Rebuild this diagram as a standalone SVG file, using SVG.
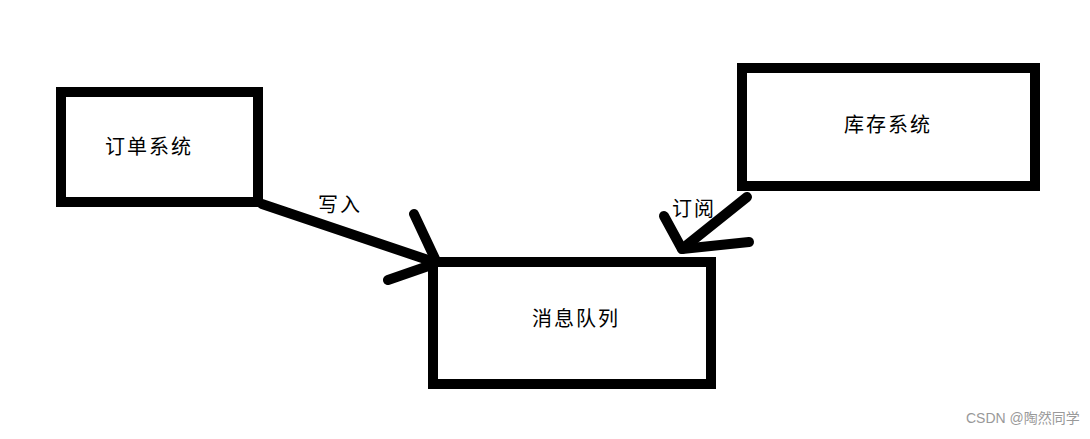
<svg xmlns="http://www.w3.org/2000/svg" width="1090" height="439" viewBox="0 0 1090 439">
<style>
.box{fill:#fff;stroke:#000;stroke-width:10}
.t{font-family:"Noto Sans CJK SC","Liberation Sans",sans-serif;font-size:20px;fill:#000;text-anchor:middle;dominant-baseline:central;letter-spacing:2px}
.c{fill:none;stroke:#000;stroke-width:10;stroke-linecap:round;stroke-linejoin:round}
.wm{font-family:"Liberation Sans","Noto Sans CJK SC",sans-serif;font-size:14px;fill:#999}
</style>
<rect width="1090" height="439" fill="#fff"/>
<g id="connectors">
<path class="c" d="M262,204 L437,263"/>
<path class="c" d="M414,214 L437,263 L388,280"/>
<path class="c" d="M747,197 L682,249"/>
<path class="c" d="M664,216 L682,249 L749,242"/>
<text class="t" x="340" y="203">写入</text>
<text class="t" x="694" y="207">订阅</text>
</g>
<g id="order">
<rect class="box" x="61" y="92" width="197" height="110"/>
<text class="t" x="149" y="145">订单系统</text>
</g>
<g id="inventory">
<rect class="box" x="742" y="68" width="293" height="118"/>
<text class="t" x="888" y="123">库存系统</text>
</g>
<g id="mq">
<rect class="box" x="433" y="262" width="278" height="122"/>
<text class="t" x="576" y="317">消息队列</text>
</g>
<text class="wm" x="966" y="423">CSDN @陶然同学</text>
</svg>
